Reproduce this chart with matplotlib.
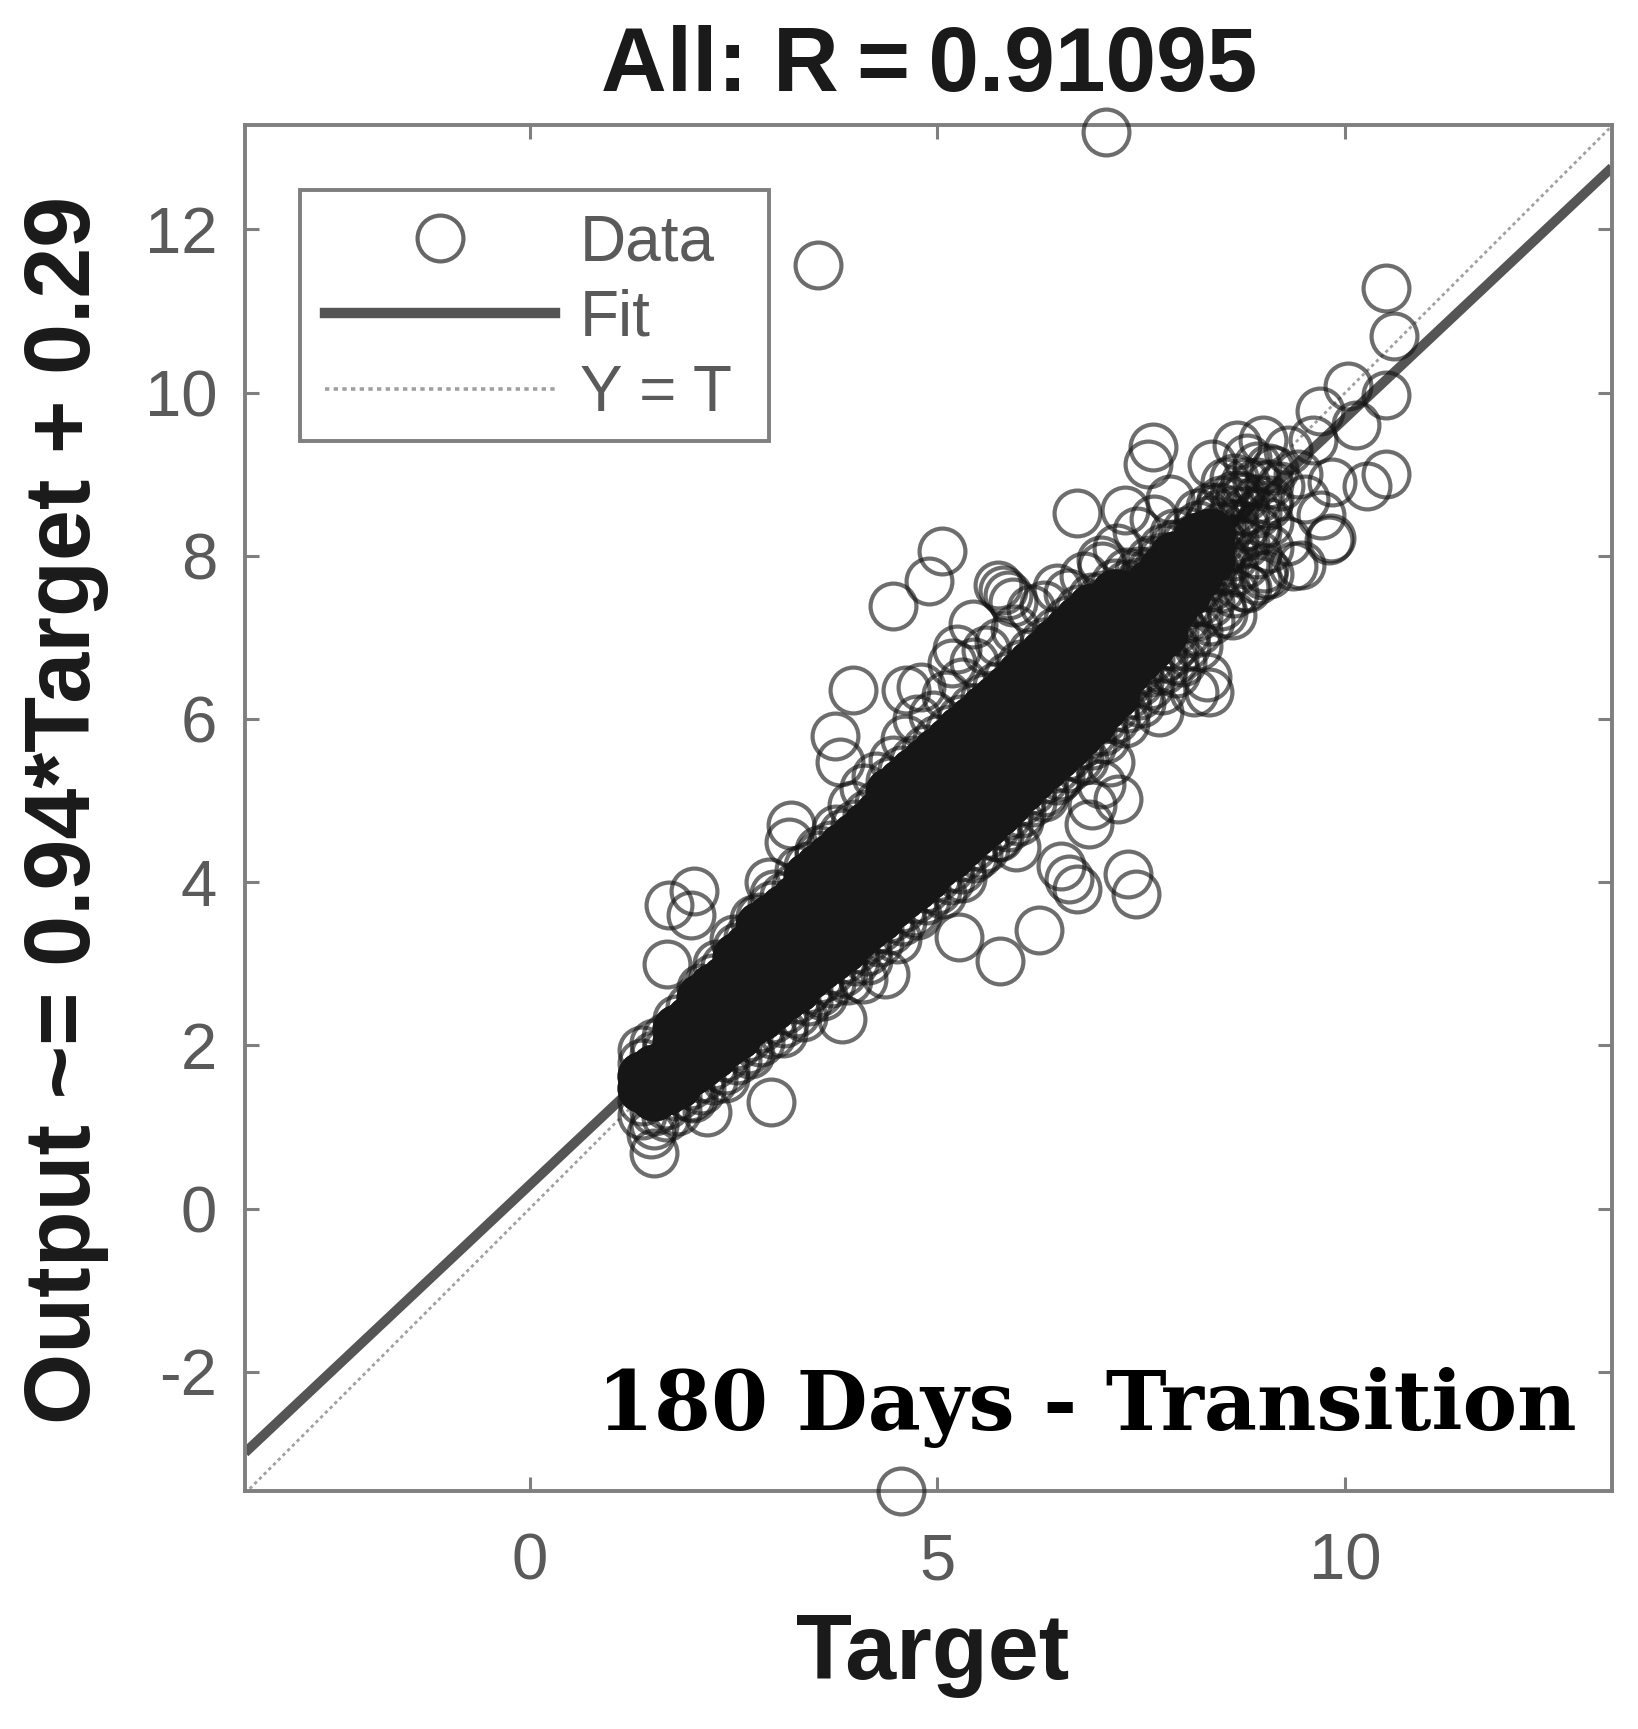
import matplotlib
matplotlib.use("Agg")
import matplotlib.pyplot as plt
from matplotlib.lines import Line2D
from matplotlib.patches import Rectangle

plt.rcParams['font.family'] = ['Liberation Sans', 'DejaVu Sans']
plt.rcParams['axes.unicode_minus'] = False

# Isolated circles
outlier_target = [7.07, 4.55, 3.54, 10.5, 10.6, 10.5, 10.03, 9.69, 10.13, 9.84, 10.27, 10.5, 9.82, 9.46,
                  7.64, 7.58, 6.71, 7.3, 5.05, 4.89, 4.46, 3.96, 3.74, 3.8, 3.21, 3.18, 2.93,
                  4.61, 4.8, 5.74, 5.8, 5.86, 5.93, 5.43, 5.24, 5.18, 7.02, 6.46,
                  2.02, 1.71, 1.98, 1.68, 2.96, 2.18, 1.52, 1.49, 3.83, 4.36, 4.09,
                  5.27, 5.77, 6.24, 5.96, 7.43, 7.33, 6.52, 6.61, 6.71, 6.86, 7.21, 7.11, 7.0, 6.9,
                  7.71, 8.33, 8.3, 8.15, 7.93, 8.61, 8.99, 9.36, 9.8,
                  8.36, 8.67, 8.99, 9.3, 9.61, 9.12, 8.8, 8.52, 9.42, 9.05, 8.71, 9.2, 8.9, 9.5, 9.28, 8.45, 9.7]
outlier_output = [13.2, -3.46, 11.57, 11.28, 10.7, 9.97, 10.08, 9.78, 9.6, 8.9, 8.86, 9.0, 8.22, 7.89,
                  9.33, 9.12, 8.53, 8.56, 8.06, 7.69, 7.38, 6.36, 5.79, 5.47, 4.7, 4.49, 4.0,
                  6.36, 6.39, 7.64, 7.58, 7.52, 7.43, 7.16, 6.86, 6.69, 7.87, 7.6,
                  3.89, 3.72, 3.6, 3.0, 1.31, 1.19, 0.68, 0.92, 2.32, 2.88, 2.82,
                  3.33, 3.03, 3.42, 4.43, 3.86, 4.1, 4.2, 4.04, 3.92, 4.72, 5.02, 5.47, 5.2, 4.95,
                  6.09, 6.33, 6.51, 6.33, 6.57, 7.28, 7.76, 7.87, 8.2,
                  9.12, 9.36, 9.42, 9.3, 9.42, 9.05, 9.2, 8.9, 9.0, 8.62, 8.75, 8.85, 8.35, 8.7, 8.18, 8.6, 8.5]

# Rings along the edges of the crowded band
fringe_target = [2.3, 2.5, 2.75, 3.0, 3.3, 3.55, 3.75, 3.95, 4.1, 4.25, 4.45, 4.6, 4.75, 4.95, 5.1, 5.3, 5.45,
                 5.6, 5.75, 5.95, 6.15, 6.3, 6.6, 6.8, 7.0, 7.2, 7.45, 7.65, 7.85,
                 2.0, 2.4, 2.7, 3.1, 3.35, 3.6, 3.9, 4.15, 4.5, 4.75, 5.05, 5.3, 5.5, 5.75, 6.0, 6.3, 6.5,
                 6.8, 7.05, 7.3, 7.5, 7.75, 8.0, 8.2, 8.5, 8.8, 9.0]
fringe_output = [3.0, 3.3, 3.55, 3.85, 4.15, 4.4, 4.65, 4.95, 5.15, 5.3, 5.5, 5.75, 6.0, 6.05, 6.3, 6.45, 6.7,
                 6.85, 6.95, 7.1, 7.35, 7.4, 7.55, 7.75, 7.95, 8.1, 8.3, 8.45, 8.7,
                 1.35, 1.6, 1.9, 2.15, 2.35, 2.6, 2.8, 3.05, 3.3, 3.6, 3.85, 4.05, 4.35, 4.55, 4.75, 5.05, 5.3,
                 5.5, 5.75, 5.95, 6.2, 6.35, 6.7, 6.9, 7.3, 7.6, 7.85]

# Crowded band, read column by column
band_target = [1.38, 1.52, 1.67, 1.81, 1.96, 2.1, 2.25, 2.39, 2.54, 2.68, 2.83, 2.97, 3.12, 3.26, 3.41, 3.55,
               3.7, 3.84, 3.99, 4.13, 4.28, 4.42, 4.57, 4.71, 4.86, 5.0, 5.15, 5.29, 5.44, 5.58, 5.73, 5.87,
               6.02, 6.16, 6.31, 6.45, 6.6, 6.74, 6.89, 7.03, 7.18, 7.32, 7.47, 7.61, 7.76, 7.9, 8.05, 8.19,
               8.34, 8.48, 8.63, 8.77, 8.92, 9.06]
band_output = [
    [1.15, 1.32, 1.48, 1.63, 1.78, 1.95],
    [1.02, 1.2, 1.38, 1.55, 1.71, 1.88, 2.03],
    [1.12, 1.27, 1.46, 1.6, 1.77, 1.93, 2.1],
    [1.2, 1.38, 1.53, 1.72, 1.86, 2.04, 2.2, 2.33],
    [1.37, 1.52, 1.69, 1.83, 2.0, 2.14, 2.31, 2.47],
    [1.45, 1.6, 1.78, 1.95, 2.08, 2.25, 2.41, 2.58, 2.7],
    [1.58, 1.76, 1.9, 2.07, 2.22, 2.36, 2.53, 2.7, 2.83],
    [1.7, 1.86, 2.03, 2.17, 2.33, 2.5, 2.63, 2.8, 2.97],
    [1.82, 2.0, 2.13, 2.3, 2.46, 2.6, 2.77, 2.92, 3.08, 3.21],
    [1.95, 2.1, 2.27, 2.42, 2.56, 2.73, 2.88, 3.03, 3.2, 3.33],
    [2.04, 2.22, 2.36, 2.53, 2.67, 2.84, 2.98, 3.15, 3.29, 3.46, 3.58],
    [2.14, 2.33, 2.48, 2.62, 2.79, 2.95, 3.09, 3.26, 3.4, 3.56, 3.72],
    [2.28, 2.44, 2.6, 2.75, 2.9, 3.04, 3.21, 3.36, 3.52, 3.67, 3.83],
    [2.4, 2.57, 2.7, 2.87, 3.03, 3.18, 3.32, 3.49, 3.63, 3.8, 3.95],
    [2.55, 2.69, 2.86, 3.0, 3.15, 3.31, 3.46, 3.6, 3.77, 3.91, 4.07, 4.2],
    [2.66, 2.81, 2.97, 3.12, 3.28, 3.42, 3.59, 3.73, 3.88, 4.04, 4.18, 4.33],
    [2.76, 2.93, 3.09, 3.24, 3.38, 3.55, 3.69, 3.86, 4.0, 4.16, 4.3, 4.46],
    [2.9, 3.06, 3.2, 3.37, 3.52, 3.66, 3.83, 3.97, 4.13, 4.28, 4.43, 4.6],
    [3.03, 3.18, 3.34, 3.48, 3.65, 3.79, 3.95, 4.1, 4.25, 4.41, 4.56, 4.72],
    [3.16, 3.3, 3.47, 3.61, 3.76, 3.93, 4.07, 4.23, 4.38, 4.53, 4.69, 4.84],
    [3.27, 3.44, 3.58, 3.75, 3.89, 4.05, 4.2, 4.35, 4.51, 4.66, 4.82, 4.97],
    [3.41, 3.56, 3.72, 3.87, 4.02, 4.18, 4.33, 4.48, 4.64, 4.79, 4.94, 5.1, 5.24],
    [3.52, 3.68, 3.84, 3.99, 4.15, 4.3, 4.45, 4.61, 4.76, 4.92, 5.07, 5.22, 5.38],
    [3.64, 3.8, 3.96, 4.11, 4.27, 4.42, 4.58, 4.73, 4.89, 5.04, 5.2, 5.35, 5.5],
    [3.78, 3.93, 4.08, 4.24, 4.39, 4.55, 4.7, 4.86, 5.01, 5.17, 5.32, 5.47, 5.63],
    [3.91, 4.06, 4.22, 4.37, 4.52, 4.68, 4.83, 4.99, 5.14, 5.29, 5.45, 5.6, 5.76],
    [4.03, 4.18, 4.34, 4.49, 4.65, 4.8, 4.96, 5.11, 5.26, 5.42, 5.57, 5.73, 5.88],
    [4.16, 4.31, 4.47, 4.62, 4.78, 4.93, 5.08, 5.24, 5.39, 5.55, 5.7, 5.86, 6.0],
    [4.3, 4.45, 4.6, 4.76, 4.91, 5.06, 5.22, 5.37, 5.53, 5.68, 5.83, 5.99, 6.14],
    [4.42, 4.58, 4.73, 4.88, 5.04, 5.19, 5.35, 5.5, 5.65, 5.81, 5.96, 6.12, 6.27],
    [4.55, 4.7, 4.86, 5.01, 5.17, 5.32, 5.47, 5.63, 5.78, 5.94, 6.09, 6.24, 6.4],
    [4.68, 4.83, 4.99, 5.14, 5.29, 5.45, 5.6, 5.76, 5.91, 6.06, 6.22, 6.37, 6.53],
    [4.85, 5.0, 5.16, 5.31, 5.46, 5.62, 5.77, 5.93, 6.08, 6.23, 6.39, 6.54, 6.68],
    [4.98, 5.13, 5.29, 5.44, 5.6, 5.75, 5.9, 6.06, 6.21, 6.37, 6.52, 6.67, 6.82],
    [5.11, 5.26, 5.42, 5.57, 5.73, 5.88, 6.03, 6.19, 6.34, 6.5, 6.65, 6.8, 6.95],
    [5.25, 5.4, 5.56, 5.71, 5.86, 6.02, 6.17, 6.33, 6.48, 6.63, 6.79, 6.94, 7.08],
    [5.4, 5.55, 5.7, 5.86, 6.01, 6.17, 6.32, 6.47, 6.63, 6.78, 6.94, 7.08, 7.22],
    [5.52, 5.68, 5.83, 5.98, 6.14, 6.29, 6.45, 6.6, 6.75, 6.91, 7.06, 7.22, 7.35],
    [5.68, 5.83, 5.98, 6.14, 6.29, 6.44, 6.6, 6.75, 6.91, 7.06, 7.21, 7.36, 7.5],
    [5.85, 6.0, 6.16, 6.31, 6.46, 6.62, 6.77, 6.93, 7.08, 7.23, 7.38, 7.52],
    [6.0, 6.15, 6.31, 6.46, 6.61, 6.77, 6.92, 7.08, 7.23, 7.38, 7.53, 7.67],
    [6.13, 6.29, 6.44, 6.6, 6.75, 6.9, 7.06, 7.21, 7.37, 7.52, 7.66, 7.8],
    [6.3, 6.45, 6.61, 6.76, 6.92, 7.07, 7.22, 7.38, 7.53, 7.68, 7.82],
    [6.42, 6.58, 6.73, 6.89, 7.04, 7.2, 7.35, 7.5, 7.66, 7.81, 7.95],
    [6.6, 6.75, 6.9, 7.06, 7.21, 7.37, 7.52, 7.67, 7.83, 7.98, 8.1],
    [6.72, 6.9, 7.08, 7.23, 7.39, 7.54, 7.7, 7.85, 8.0, 8.14, 8.28],
    [6.9, 7.06, 7.24, 7.4, 7.55, 7.71, 7.87, 8.02, 8.17, 8.31],
    [7.08, 7.26, 7.44, 7.6, 7.76, 7.92, 8.08, 8.23, 8.38, 8.52],
    [7.2, 7.42, 7.62, 7.8, 7.96, 8.13, 8.28, 8.44, 8.6],
    [7.38, 7.6, 7.83, 8.02, 8.2, 8.36, 8.52, 8.68],
    [7.55, 7.8, 8.0, 8.21, 8.39, 8.56, 8.74, 8.95],
    [7.62, 7.9, 8.15, 8.36, 8.55, 8.72, 8.9],
    [7.7, 8.02, 8.3, 8.52, 8.7, 8.9, 9.1],
    [7.78, 8.1, 8.42, 8.68, 8.88, 9.08],
]

fit_target = [-3.49, 13.27]
fit_output = [-2.99, 12.76]
identity_target = [-3.49, 13.27]
identity_output = [-3.49, 13.27]
x_ticks = [0, 5, 10]
y_ticks = [-2, 0, 2, 4, 6, 8, 10, 12]

W, H = 1638, 1729
fig = plt.figure(figsize=(W / 100, H / 100), dpi=100, facecolor='white')
L, R, T, B = 245, 1612, 125, 1491
ax = fig.add_axes([L / W, 1 - B / H, (R - L) / W, (B - T) / H])
ax.set_xlim(-3.49, 13.27)
ax.set_ylim(-3.46, 13.28)

ms = 33
mew = 3.0
edge = (0.08, 0.08, 0.08, 0.62)
core_color = '#161616'
xs = list(outlier_target) + list(fringe_target)
ys = list(outlier_output) + list(fringe_output)
core_x, core_y = [], []
for tx, col in zip(band_target, band_output):
    for v in col:
        xs.append(tx)
        ys.append(v)
    # solid body of the band: it narrows toward both ends
    if tx < 1.75:
        inner = col[2:-2]
    elif tx < 7.2:
        inner = col[2:-1]
    elif tx < 7.9:
        inner = col[3:-2]
    elif tx < 8.4:
        inner = col[4:-2]
    else:
        inner = []
    for v in inner:
        core_x.append(tx)
        core_y.append(v)
ax.plot(xs, ys, ls='none', marker='o', ms=ms, mfc='none', mec=edge, mew=mew, clip_on=False, zorder=3)
ax.plot(core_x, core_y, ls='none', marker='o', ms=ms, mfc=core_color, mec=core_color, mew=mew, zorder=3)
ax.plot(fit_target, fit_output, color='#555555', lw=7, zorder=2, solid_capstyle='butt')
ax.plot(identity_target, identity_output, color='#a0a0a0', lw=2.0, ls=(0, (1.2, 1.2)), zorder=2)

for s in ax.spines.values():
    s.set_color('#7f7f7f')
    s.set_linewidth(2.8)
ax.set_xticks(x_ticks)
ax.set_yticks(y_ticks)
ax.tick_params(axis='both', direction='in', top=True, right=True, length=10, width=2.2, color='#7f7f7f',
               labelsize=47, labelcolor='#5a5a5a')
ax.tick_params(axis='x', pad=30)
ax.tick_params(axis='y', pad=20)

ax.add_patch(Rectangle((300 / W, 1 - 441 / H), 469 / W, 251 / H, transform=fig.transFigure, facecolor='white',
                       edgecolor='#7f7f7f', linewidth=2.8, zorder=4))
handles = [
    Line2D([], [], ls='none', marker='o', ms=ms, mfc='none', mec='#666666', mew=mew),
    Line2D([], [], color='#555555', lw=7.5),
    Line2D([], [], color='#a0a0a0', lw=2.6, ls=(0, (1.2, 1.2))),
]
leg = ax.legend(handles, ['Data', 'Fit', 'Y = T'], loc='upper left',
                bbox_to_anchor=((298 - L) / (R - L), 1 - (186 - T) / (B - T)), borderaxespad=0,
                fontsize=46, labelcolor='#5a5a5a', frameon=False,
                handlelength=3.6, handletextpad=0.38, labelspacing=0.24, borderpad=0.43)
leg.set_zorder(5)

fig.text(929 / W, 1 - 68 / H, 'All: R\u2009=\u20090.91095', fontsize=65.5, weight='bold', color='#1a1a1a',
         ha='center', va='center')
fig.text(933 / W, 1 - 1655 / H, 'Target', fontsize=66, weight='bold', color='#1a1a1a', ha='center', va='center')
fig.text(66 / W, 1 - 810 / H, 'Output ~= 0.94*Target + 0.29', fontsize=66, weight='bold', color='#1a1a1a',
         rotation=90, ha='center', va='center')
fig.text(1087 / W, 1 - 1407 / H, '180 Days - Transition', fontsize=59, weight='bold', color='black',
         family=['DejaVu Serif'], ha='center', va='center', zorder=6)

fig.savefig('out.png', dpi=100, facecolor='white')
